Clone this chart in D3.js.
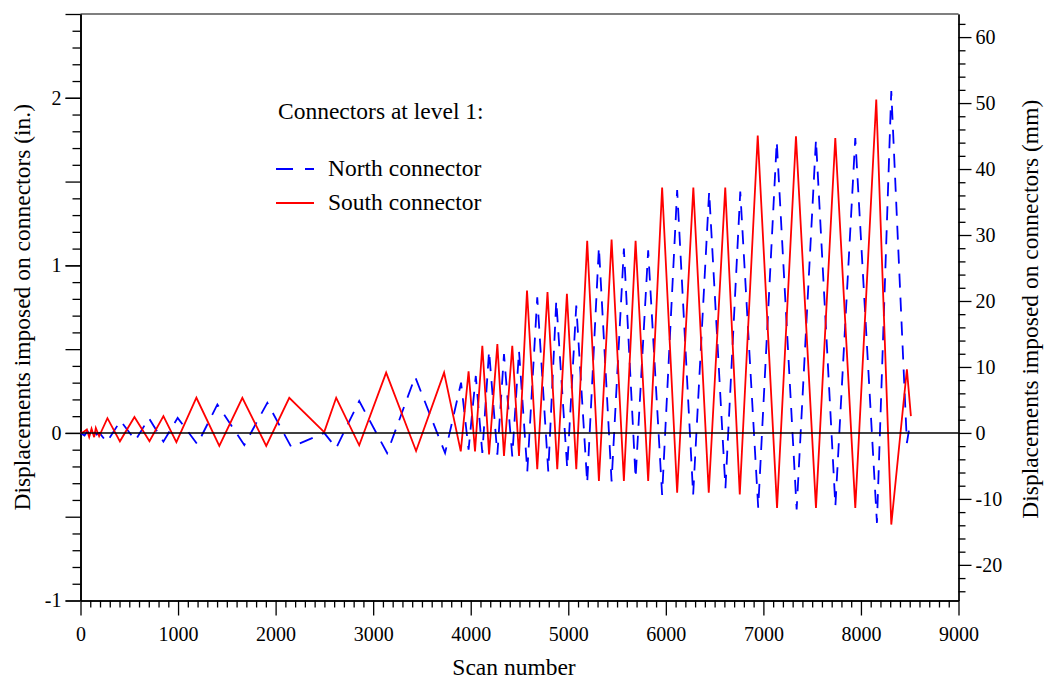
<!DOCTYPE html>
<html><head><meta charset="utf-8">
<script src="https://cdn.jsdelivr.net/npm/d3@7"></script>
<style>
body{margin:0;background:#fff}
text{font-family:"Liberation Serif","Times New Roman",serif;fill:#000}
</style>
</head><body><svg id="c" width="1046" height="686"></svg>
<script>
// South connector (solid red): scan number / displacement (in.)
const southScan = [0,31,65,89,113,140,157,191,276,404,553,707,850,983,1188,1423,1659,1904,2140,2498,2621,2857,3133,3440,3727,3898,3978,4044,4119,4188,4273,4341,4426,4495,4577,4682,4787,4887,4986,5082,5194,5314,5444,5570,5690,5819,5962,6116,6282,6440,6609,6758,6942,7140,7334,7539,7737,7942,8157,8311,8471,8512];
const southDisp = [0,0.005,0.02,-0.025,0.025,-0.025,0.03,-0.02,0.088,-0.05,0.095,-0.05,0.10,-0.055,0.21,-0.078,0.21,-0.078,0.21,0.005,0.21,-0.074,0.36,-0.108,0.36,-0.11,0.367,-0.11,0.52,-0.128,0.53,-0.138,0.52,-0.138,0.85,-0.217,0.84,-0.217,0.83,-0.217,1.146,-0.287,1.154,-0.287,1.146,-0.287,1.465,-0.357,1.465,-0.357,1.465,-0.367,1.775,-0.447,1.77,-0.447,1.76,-0.447,1.99,-0.547,0.38,0.10];
// North connector (dashed blue)
const northScan = [0,41,72,102,133,164,195,269,410,563,701,850,996,1198,1403,1679,1915,2160,2498,2621,2857,3143,3430,3737,3901,3978,4052,4119,4188,4273,4341,4426,4495,4580,4682,4795,4877,4989,5082,5194,5314,5444,5570,5690,5819,5962,6116,6280,6444,6611,6763,6947,7137,7341,7539,7738,7942,8164,8311,8471,8493];
const northDisp = [0,-0.015,0.01,-0.02,0.015,-0.01,0.0,-0.055,0.072,-0.045,0.088,-0.052,0.09,-0.068,0.17,-0.072,0.18,-0.084,0.0,-0.09,0.19,-0.12,0.335,-0.12,0.30,-0.10,0.34,-0.12,0.49,-0.13,0.47,-0.14,0.49,-0.23,0.81,-0.23,0.79,-0.21,0.76,-0.30,1.11,-0.29,1.10,-0.27,1.09,-0.37,1.45,-0.37,1.44,-0.33,1.44,-0.447,1.74,-0.457,1.75,-0.437,1.76,-0.537,2.04,-0.06,0.02];

const xMajorTicks = [0,1000,2000,3000,4000,5000,6000,7000,8000,9000];
const yMajorTicksIn = [-1,0,1,2];
const yMajorTicksMm = [-20,-10,0,10,20,30,40,50,60];
const legendTitle = "Connectors at level 1:";
const seriesNames = ["North connector","South connector"];

const svg = d3.select("#c");
const L = 80.5, R = 958.5, T = 14, B = 600.5;
const x = d3.scaleLinear().domain([0,9000]).range([L,R]);
const y = d3.scaleLinear().domain([-1,2.5]).range([B,T]);
const ymm = d3.scaleLinear().domain([-25.4,63.5]).range([B,T]);
const fmt = d => String(d);

const south = southScan.map((s,i)=>[s,southDisp[i]]);
const north = northScan.map((s,i)=>[s,northDisp[i]]);
const line = d3.line().x(d=>x(d[0])).y(d=>y(d[1]));

// frame top
svg.append("line").attr("x1",L).attr("x2",R).attr("y1",T).attr("y2",T)
  .attr("stroke","#000").attr("stroke-width",1.2);

function styleAxis(g){
  g.select(".domain").attr("stroke","#000").attr("stroke-width",1.3);
  g.selectAll(".tick line").attr("stroke","#000").attr("stroke-width",1.3);
}
function styleText(g){
  g.selectAll("text").attr("font-size",20).attr("font-family","Liberation Serif").attr("fill","#111");
}
// x axis
const xMinor = d3.range(0,9001,100).filter(v=>v%1000!==0);
svg.append("g").attr("transform",`translate(0,${B})`)
  .call(d3.axisBottom(x).tickValues(xMinor).tickSize(7).tickFormat("").tickSizeOuter(0))
  .call(styleAxis);
svg.append("g").attr("transform",`translate(0,${B})`)
  .call(d3.axisBottom(x).tickValues(xMajorTicks).tickSize(15).tickSizeOuter(0).tickPadding(11).tickFormat(fmt))
  .call(styleAxis).call(styleText);

// left axis
const yMinor = d3.range(-10,26,1).map(v=>v/10).filter(v=>Math.abs(v*2-Math.round(v*2))>1e-6);
const yMid = d3.range(-2,6,1).map(v=>v/2);
svg.append("g").attr("transform",`translate(${L},0)`)
  .call(d3.axisLeft(y).tickValues(yMinor).tickSize(8).tickFormat("").tickSizeOuter(0))
  .call(styleAxis);
svg.append("g").attr("transform",`translate(${L},0)`)
  .call(d3.axisLeft(y).tickValues(yMid).tickSize(15).tickFormat("").tickSizeOuter(0))
  .call(styleAxis);
svg.append("g").attr("transform",`translate(${L},0)`)
  .call(d3.axisLeft(y).tickValues(yMajorTicksIn).tickSize(15).tickSizeOuter(0).tickPadding(4).tickFormat(fmt))
  .call(styleAxis).call(styleText);

// right axis (mm)
const mmMinor = d3.range(-24,64,2).filter(v=>v%10!==0);
svg.append("g").attr("transform",`translate(${R},0)`)
  .call(d3.axisRight(ymm).tickValues(mmMinor).tickSize(7).tickFormat("").tickSizeOuter(0))
  .call(styleAxis);
svg.append("g").attr("transform",`translate(${R},0)`)
  .call(d3.axisRight(ymm).tickValues(yMajorTicksMm).tickSize(13).tickSizeOuter(0).tickPadding(4).tickFormat(fmt))
  .call(styleAxis).call(styleText);

// data
svg.append("path").datum(north).attr("d",line).attr("fill","none")
  .attr("stroke","#0000ff").attr("stroke-width",1.8).attr("stroke-dasharray","14,10");
svg.append("path").datum(south).attr("d",line).attr("fill","none")
  .attr("stroke","#ff0000").attr("stroke-width",1.8);

// zero line
svg.append("line").attr("x1",L).attr("x2",R).attr("y1",y(0)).attr("y2",y(0))
  .attr("stroke","#000").attr("stroke-width",1.5);

// titles
svg.append("text").attr("x",514).attr("y",675).attr("text-anchor","middle")
  .attr("font-size",23.5).text("Scan number");
svg.append("text").attr("transform",`translate(30,${(T+B)/2}) rotate(-90)`).attr("text-anchor","middle")
  .attr("font-size",23.5).text("Displacements imposed on connectors (in.)");
svg.append("text").attr("transform",`translate(1038,${(T+B)/2+2}) rotate(-90)`).attr("text-anchor","middle")
  .attr("font-size",23.5).text("Displacements imposed on connectors (mm)");

// legend
svg.append("text").attr("x",278).attr("y",119).attr("font-size",23.5).text(legendTitle);
svg.append("line").attr("x1",276).attr("x2",314).attr("y1",169).attr("y2",169)
  .attr("stroke","#0000ff").attr("stroke-width",1.8).attr("stroke-dasharray","17,12");
svg.append("text").attr("x",328).attr("y",176).attr("font-size",23.5).text(seriesNames[0]);
svg.append("line").attr("x1",276).attr("x2",314).attr("y1",203).attr("y2",203)
  .attr("stroke","#ff0000").attr("stroke-width",1.8);
svg.append("text").attr("x",328).attr("y",210).attr("font-size",23.5).text(seriesNames[1]);
</script>
</body></html>
